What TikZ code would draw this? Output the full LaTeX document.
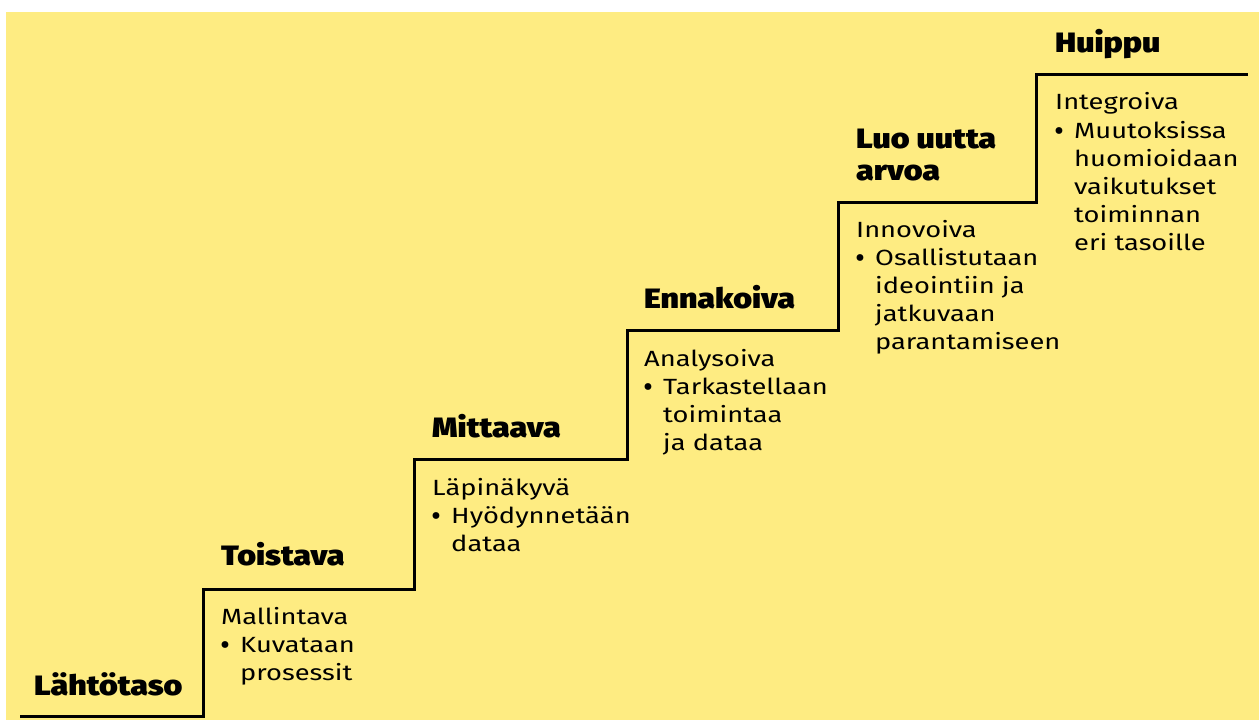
\documentclass[tikz,border=0pt]{standalone}
\usepackage{fontspec}
\setmainfont{Fira Sans}
\newfontfamily\titlefont{Fira Sans Black}[FakeStretch=1.15]
\newfontfamily\bodyfont{Fira Sans}[FakeStretch=1.24]
\newfontfamily\bulfont{Fira Sans Black}
\definecolor{bgyellow}{HTML}{FEEC82}
\tikzset{
  ttl/.style={font=\titlefont\fontsize{28}{28}\selectfont, anchor=base west, inner sep=0pt},
  bdy/.style={font=\bodyfont\fontsize{22}{22}\selectfont, anchor=base west, inner sep=0pt},
  stair/.style={line width=3pt, line join=miter}
}
\newcommand{\bul}{\makebox[19pt][l]{\bulfont •}}
\begin{document}
\begin{tikzpicture}[x=1pt,y=-1pt]
\useasboundingbox (0,0) rectangle (1259,720);
\fill[white] (0,0) rectangle (1259,720);
\fill[bgyellow] (6,12) rectangle (1259,720);
% staircase
\coordinate (s0) at (20,716);
\coordinate (s1) at (203,589);
\coordinate (s2) at (414,459);
\coordinate (s3) at (627,330);
\coordinate (s4) at (838,202);
\coordinate (s5) at (1036,74);
\coordinate (s6) at (1248,74);
\draw[stair] (s0) -| (s1) -| (s2) -| (s3) -| (s4) -| (s5) -- (s6);
% titles
\node[ttl] (t0) at (34,695) {Lähtötaso};
\node[ttl] (t1) at (221,565) {Toistava};
\node[ttl] (t2) at (432,437) {Mittaava};
\node[ttl] (t3) at (644,308) {Ennakoiva};
\node[ttl] (t4a) at (856,148) {Luo uutta};
\node[ttl] (t4b) at (856,180) {arvoa};
\node[ttl] (t5) at (1055,52) {Huippu};
% step 1
\node[bdy] (b1a) at (221,624) {Mallintava};
\node[bdy] (b1b) at (221,652) {\bul Kuvataan};
\node[bdy] (b1c) at (240,680) {prosessit};
% step 2
\node[bdy] (b2a) at (432,495) {Läpinäkyvä};
\node[bdy] (b2b) at (432,523) {\bul Hyödynnetään};
\node[bdy] (b2c) at (451,551) {dataa};
% step 3
\node[bdy] (b3a) at (644,366) {Analysoiva};
\node[bdy] (b3b) at (644,394) {\bul Tarkastellaan};
\node[bdy] (b3c) at (663,422) {toimintaa};
\node[bdy] (b3d) at (663,450) {ja dataa};
% step 4
\node[bdy] (b4a) at (856,237) {Innovoiva};
\node[bdy] (b4b) at (856,265) {\bul Osallistutaan};
\node[bdy] (b4c) at (875,293) {ideointiin ja};
\node[bdy] (b4d) at (875,321) {jatkuvaan};
\node[bdy] (b4e) at (875,349) {parantamiseen};
% step 5
\node[bdy] (b5a) at (1055,109) {Integroiva};
\node[bdy] (b5b) at (1055,138) {\bul Muutoksissa};
\node[bdy] (b5c) at (1074,166) {huomioidaan};
\node[bdy] (b5d) at (1074,194) {vaikutukset};
\node[bdy] (b5e) at (1074,222) {toiminnan};
\node[bdy] (b5f) at (1074,250) {eri tasoille};
\end{tikzpicture}
\end{document}
